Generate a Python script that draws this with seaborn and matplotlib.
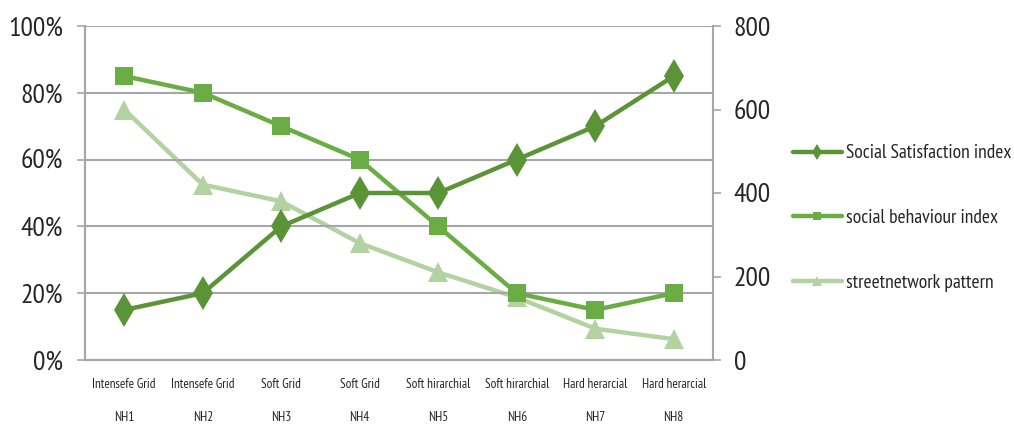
import matplotlib
matplotlib.use("Agg")
import matplotlib.pyplot as plt
import seaborn as sns
import pandas as pd
import numpy as np

# Data
types = ["Intensefe Grid", "Intensefe Grid", "Soft Grid", "Soft Grid",
         "Soft hirarchial", "Soft hirarchial", "Hard herarcial", "Hard herarcial"]
neighbourhoods = ["NH1", "NH2", "NH3", "NH4", "NH5", "NH6", "NH7", "NH8"]
satisfaction = [15, 20, 40, 50, 50, 60, 70, 85]          # %
behaviour = [85, 80, 70, 60, 40, 20, 15, 20]             # %
street_pattern = [600, 420, 380, 280, 210, 150, 75, 50]  # right axis

C_DARK = "#5b9337"
C_MID = "#6aad45"
C_LIGHT = "#b2d3a1"
C_GRID = "#a6a6a6"
C_TEXT = "#262626"

sns.set_style("white")
FONT = ["PT Sans Narrow", "DejaVu Sans"]
plt.rcParams["font.family"] = FONT

df = pd.DataFrame({
    "pos": np.arange(len(neighbourhoods)),
    "satisfaction": satisfaction,
    "behaviour": behaviour,
    "street": street_pattern,
})

W, H = 1014, 428
fig = plt.figure(figsize=(W / 100, H / 100), dpi=100)
ax = fig.add_axes([85 / W, 1 - 360 / H, (713 - 85) / W, (360 - 26) / H])
ax2 = ax.twinx()

sns.lineplot(data=df, x="pos", y="satisfaction", ax=ax, color=C_DARK,
             linewidth=3.2, marker="d", markersize=17, markeredgewidth=0,
             label="Social Satisfaction index", legend=False, zorder=4)
sns.lineplot(data=df, x="pos", y="behaviour", ax=ax, color=C_MID,
             linewidth=3.2, marker="s", markersize=12.5, markeredgewidth=0,
             label="social behaviour index", legend=False, zorder=3)
sns.lineplot(data=df, x="pos", y="street", ax=ax2, color=C_LIGHT,
             linewidth=3.2, marker="^", markersize=14, markeredgewidth=0,
             label="streetnetwork pattern", legend=False, zorder=2)

# Put the left axes (and its two lines) above the twin
ax.set_zorder(ax2.get_zorder() + 1)
ax.patch.set_visible(False)

ax.set_xlim(-0.5, len(neighbourhoods) - 0.5)
ax.set_ylim(0, 100)
ax2.set_ylim(0, 800)

ax.set_yticks(np.arange(0, 101, 20))
ax.set_yticklabels([f"{v}%" for v in range(0, 101, 20)], fontsize=20,
                   color=C_TEXT)
ax2.set_yticks(np.arange(0, 801, 200))
ax2.set_yticklabels([str(v) for v in range(0, 801, 200)], fontsize=20,
                    color=C_TEXT)

ax.yaxis.grid(True, color=C_GRID, linewidth=1.5)
ax.xaxis.grid(False)
ax2.grid(False)

ax.tick_params(axis="y", direction="out", length=6, width=1.2,
               color=C_GRID, pad=10, left=True)
ax2.tick_params(axis="y", direction="out", length=6, width=1.2,
                color=C_GRID, pad=9, right=True)

# Category table under the axis
ax.set_xticks(df["pos"])
ax.set_xticklabels([f"{t}\n\n{n}" for t, n in zip(types, neighbourhoods)],
                   fontsize=9.5, color=C_TEXT, linespacing=1.35)
ax.tick_params(axis="x", which="major", length=0, pad=13)
ax.set_xticks(np.arange(-0.5, len(neighbourhoods), 1), minor=True)
ax.tick_params(axis="x", which="minor", direction="out", length=50,
               width=1.2, color=C_GRID)
ax.set_xlabel("")
ax.set_ylabel("")
ax2.set_ylabel("")

for a in (ax, ax2):
    a.spines["top"].set_visible(False)
    for side in ("left", "right", "bottom"):
        a.spines[side].set_color(C_GRID)
        a.spines[side].set_linewidth(1.5)
ax.spines["right"].set_visible(False)

h1, l1 = ax.get_legend_handles_labels()
h2, l2 = ax2.get_legend_handles_labels()
fig.legend(h1 + h2, l1 + l2, loc="center left",
           bbox_to_anchor=(793 / W, 1 - 218 / H), frameon=False,
           borderpad=0, borderaxespad=0,
           fontsize=14, markerscale=0.5, handlelength=2.5,
           handletextpad=0.2, labelspacing=2.4, labelcolor=C_TEXT)

fig.savefig("out.png", dpi=100)
